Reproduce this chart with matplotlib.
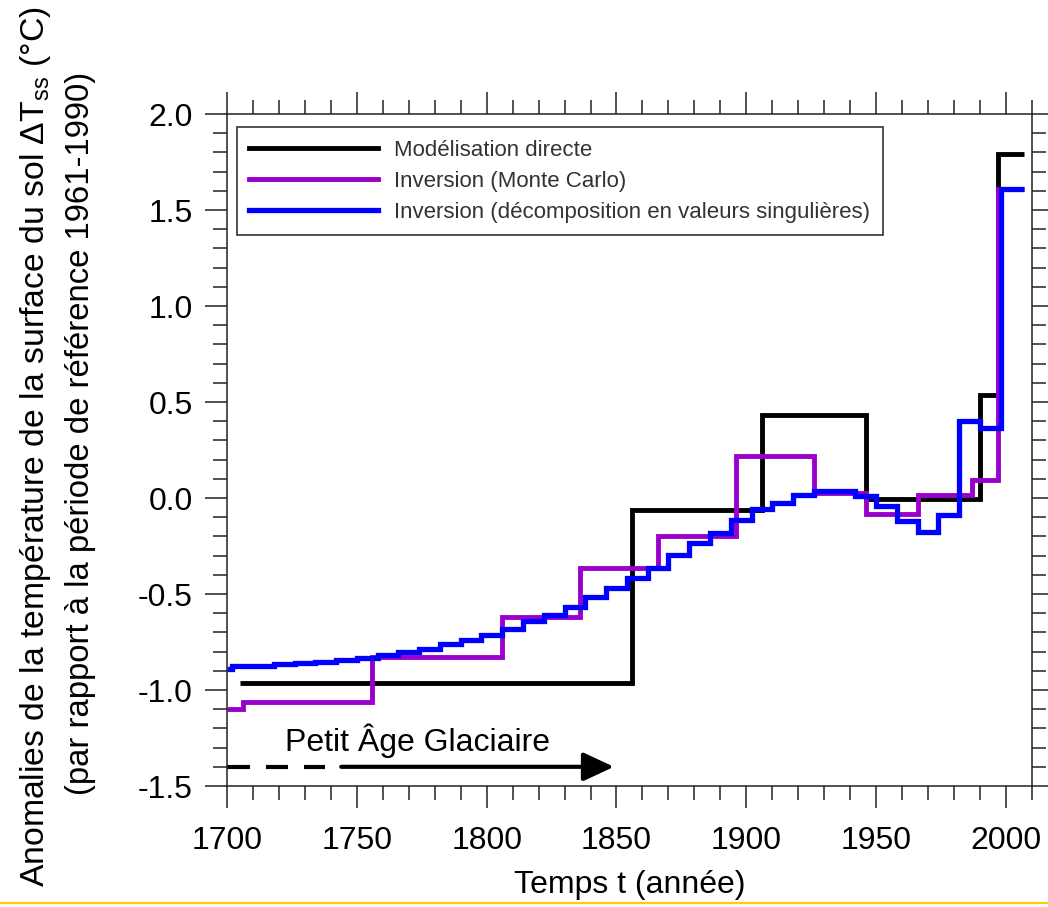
import matplotlib
matplotlib.use("Agg")
import matplotlib.pyplot as plt
from matplotlib.lines import Line2D
from matplotlib.ticker import MultipleLocator

plt.rcParams['font.family'] = ['Liberation Sans', 'DejaVu Sans']
plt.rcParams['mathtext.fontset'] = 'custom'
plt.rcParams['mathtext.rm'] = 'Liberation Sans'
plt.rcParams['axes.unicode_minus'] = False

# Modélisation directe
direct_edges = [1705, 1856, 1906, 1946, 1990, 1997, 2007]
direct_values = [-0.963, -0.063, 0.433, -0.005, 0.537, 1.79]

# Inversion (Monte Carlo)
mc_edges = [1700, 1706, 1756, 1806, 1836, 1866, 1896, 1926, 1946, 1966, 1987, 1997, 2007]
mc_values = [-1.10, -1.063, -0.826, -0.62, -0.367, -0.20, 0.219, 0.028, -0.085, 0.016, 0.095, 1.61]

# Inversion (décomposition en valeurs singulières)
svd_edges = [1700, 1702, 1710, 1718, 1726, 1734, 1742, 1750, 1758, 1766, 1774,
             1782, 1790, 1798, 1806, 1814, 1822, 1830, 1838, 1846, 1854, 1862,
             1870, 1878, 1886, 1894, 1902, 1910, 1918, 1926, 1934, 1942, 1950,
             1958, 1966, 1974, 1982, 1990, 1998, 2007]
svd_values = [-0.888, -0.876, -0.873, -0.866, -0.859, -0.854, -0.843, -0.834,
              -0.819, -0.800, -0.784, -0.762, -0.737, -0.715, -0.680, -0.640,
              -0.607, -0.570, -0.518, -0.468, -0.419, -0.363, -0.297, -0.236,
              -0.180, -0.112, -0.056, -0.025, 0.018, 0.037, 0.037, 0.009,
              -0.042, -0.120, -0.176, -0.089, 0.400, 0.364, 1.61]

labels = ["Modélisation directe",
          "Inversion (Monte Carlo)",
          "Inversion (décomposition en valeurs singulières)"]
colors = ["#000000", "#9900CC", "#0000FF"]

# Petit Âge Glaciaire : tirets puis fleche pleine
pag_dashes = [(1700, 1708.7), (1715, 1723.4), (1729.6, 1737.7)]
pag_arrow_start, pag_end, pag_y = 1744, 1849, -1.4

fig = plt.figure(figsize=(10.48, 9.07), dpi=100)
ax = fig.add_axes([0.2166, 0.1334, 0.7681, 0.7409])

ax.stairs(direct_values, direct_edges, baseline=None, color=colors[0], lw=3.5, label=labels[0])
ax.stairs(mc_values, mc_edges, baseline=None, color=colors[1], lw=3.5, label=labels[1])
ax.stairs(svd_values, svd_edges, baseline=None, color=colors[2], lw=3.8, label=labels[2])

for x0, x1 in pag_dashes:
    ax.plot([x0, x1], [pag_y, pag_y], color='black', lw=3.0, solid_capstyle='butt',
            scalex=False, scaley=False)
ax.annotate("", xy=(pag_end, pag_y), xytext=(pag_arrow_start, pag_y),
            arrowprops=dict(arrowstyle='-|>,head_length=0.75,head_width=0.35',
                            mutation_scale=25, lw=3.0, color='black',
                            shrinkA=0, shrinkB=0))
ax.text(1773.5, -1.265, "Petit Âge Glaciaire", fontsize=23, ha='center', va='center')

ax.set_xlim(1700, 2010)
ax.set_ylim(-1.5, 2.0)
ax.xaxis.set_major_locator(MultipleLocator(50))
ax.xaxis.set_minor_locator(MultipleLocator(10))
ax.yaxis.set_major_locator(MultipleLocator(0.5))
ax.yaxis.set_minor_locator(MultipleLocator(0.1))
ax.yaxis.set_major_formatter(matplotlib.ticker.FormatStrFormatter('%.1f'))
ax.tick_params(which='both', direction='out', top=True, right=True, width=1.1, color='#222222')
ax.tick_params(which='major', length=15.6, labelsize=23, pad=9)
ax.tick_params(axis='x', which='major', pad=13)
ax.tick_params(which='minor', length=10.3)
for s in ax.spines.values():
    s.set_linewidth(1.1)
    s.set_color('#222222')

leg = ax.legend(loc='upper left', bbox_to_anchor=(0.012, 0.98), borderaxespad=0,
                fontsize=16, handlelength=5.8, handletextpad=0.75,
                labelspacing=0.45, fancybox=False, framealpha=1,
                edgecolor='#333333', borderpad=0.55)
leg.get_frame().set_linewidth(1.2)
for t in leg.get_texts():
    t.set_color('#333333')

ax.set_xlabel("Temps t (année)", fontsize=23, labelpad=10)

fig.text(0.034, 0.508,
         "Anomalies de la température de la surface du sol ΔT$_{\\rm ss}$ (°C)",
         rotation=90, fontsize=24.3, ha='center', va='center')
fig.text(0.077, 0.522, "(par rapport à la période de référence 1961-1990)",
         rotation=90, fontsize=23.7, ha='center', va='center')

# trait jaune en bas
fig.add_artist(Line2D([0, 1], [0.004, 0.004], transform=fig.transFigure,
                      color='#FFCC00', lw=1.5))

fig.savefig("out.png", dpi=100)
